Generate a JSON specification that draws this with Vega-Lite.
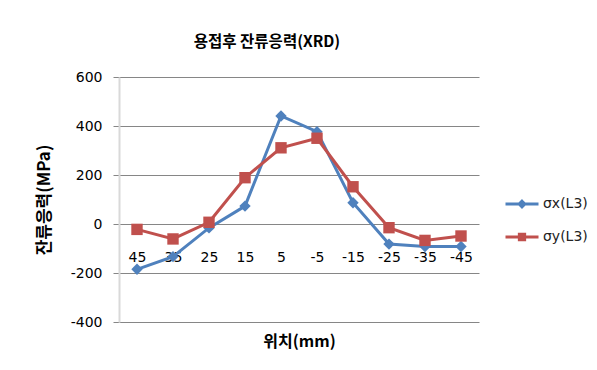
{
  "$schema": "https://vega.github.io/schema/vega-lite/v6.json",
  "width": 360,
  "height": 245,
  "autosize": {"type": "none"},
  "padding": {"left": 119, "top": 77, "right": 118, "bottom": 48},
  "background": "white",
  "title": {
    "text": "용접후 잔류응력(XRD)",
    "font": "Noto Sans CJK KR",
    "fontSize": 15.5,
    "fontWeight": "bold",
    "color": "#000000",
    "anchor": "middle",
    "frame": "group",
    "dx": -32,
    "offset": 5,
    "baseline": "bottom"
  },
  "config": {"view": {"stroke": null}},
  "data": {
    "values": [
      {"pos": "45", "series": "σx(L3)", "stress": -185},
      {"pos": "35", "series": "σx(L3)", "stress": -133},
      {"pos": "25", "series": "σx(L3)", "stress": -16},
      {"pos": "15", "series": "σx(L3)", "stress": 73},
      {"pos": "5", "series": "σx(L3)", "stress": 441},
      {"pos": "-5", "series": "σx(L3)", "stress": 377},
      {"pos": "-15", "series": "σx(L3)", "stress": 87},
      {"pos": "-25", "series": "σx(L3)", "stress": -82},
      {"pos": "-35", "series": "σx(L3)", "stress": -92},
      {"pos": "-45", "series": "σx(L3)", "stress": -92},
      {"pos": "45", "series": "σy(L3)", "stress": -22},
      {"pos": "35", "series": "σy(L3)", "stress": -61},
      {"pos": "25", "series": "σy(L3)", "stress": 7},
      {"pos": "15", "series": "σy(L3)", "stress": 189},
      {"pos": "5", "series": "σy(L3)", "stress": 311},
      {"pos": "-5", "series": "σy(L3)", "stress": 350},
      {"pos": "-15", "series": "σy(L3)", "stress": 152},
      {"pos": "-25", "series": "σy(L3)", "stress": -15},
      {"pos": "-35", "series": "σy(L3)", "stress": -67},
      {"pos": "-45", "series": "σy(L3)", "stress": -49}
    ]
  },
  "encoding": {
    "x": {
      "field": "pos",
      "type": "ordinal",
      "sort": ["45", "35", "25", "15", "5", "-5", "-15", "-25", "-35", "-45"],
      "scale": {"type": "point", "padding": 0.5},
      "axis": {
        "title": "위치(mm)",
        "titleFont": "Noto Sans CJK KR",
        "titleFontSize": 16,
        "titleFontWeight": "bold",
        "titleColor": "#000000",
        "titleY": 117,
        "titleBaseline": "middle",
        "offset": -98,
        "domain": false,
        "ticks": false,
        "grid": false,
        "labelAngle": 0,
        "labelFont": "DejaVu Sans",
        "labelFontSize": 14,
        "labelColor": "#000000",
        "labelPadding": 26
      }
    },
    "y": {
      "field": "stress",
      "type": "quantitative",
      "scale": {"domain": [-400, 600], "nice": false, "zero": false},
      "axis": {
        "title": "잔류응력(MPa)",
        "values": [-400, -200, 0, 200, 400, 600],
        "labelExpr": "'' + datum.value",
        "grid": true,
        "gridColor": "#868686",
        "gridWidth": 1,
        "gridOpacity": 1,
        "tickColor": "#868686",
        "tickSize": 6,
        "domainColor": "#d9d9d9",
        "domainWidth": 2,
        "labelFont": "DejaVu Sans",
        "labelFontSize": 14,
        "labelColor": "#000000",
        "labelPadding": 11,
        "titleFont": "Noto Sans CJK KR",
        "titleFontSize": 17,
        "titleFontWeight": "bold",
        "titleColor": "#000000",
        "titlePadding": 17
      }
    },
    "color": {
      "field": "series",
      "type": "nominal",
      "scale": {"domain": ["σx(L3)", "σy(L3)"], "range": ["#4F81BD", "#C0504D"]},
      "legend": {
        "orient": "none",
        "legendX": 385,
        "legendY": 109,
        "title": null,
        "padding": 0,
        "rowPadding": 6,
        "symbolSize": 1089,
        "symbolStrokeWidth": 3,
        "symbolType": "M-1,0H1",
        "labelFont": "DejaVu Sans",
        "labelFontSize": 14,
        "labelColor": "#222222",
        "labelOffset": 3,
        "encode": {
          "symbols": {
            "update": {
              "shape": {"signal": "datum.value === 'σx(L3)' ? 'M-1,0H1M0,-0.17L0.17,0L0,0.17L-0.17,0Z' : 'M-1,0H1M-0.16,-0.16H0.16V0.16H-0.16Z'"},
              "size": {"value": 1089},
              "fill": {"signal": "datum.value === 'σx(L3)' ? '#4F81BD' : '#C0504D'"},
              "stroke": {"signal": "datum.value === 'σx(L3)' ? '#4F81BD' : '#C0504D'"},
              "strokeWidth": {"value": 3},
              "opacity": {"value": 1}
            }
          }
        }
      }
    }
  },
  "layer": [
    {"mark": {"type": "line", "strokeWidth": 3}},
    {
      "transform": [{"filter": "datum.series === 'σx(L3)'"}],
      "mark": {"type": "point", "filled": true, "opacity": 1, "size": 130, "shape": "diamond"}
    },
    {
      "transform": [{"filter": "datum.series === 'σy(L3)'"}],
      "mark": {"type": "point", "filled": true, "opacity": 1, "size": 130, "shape": "square"}
    }
  ]
}
